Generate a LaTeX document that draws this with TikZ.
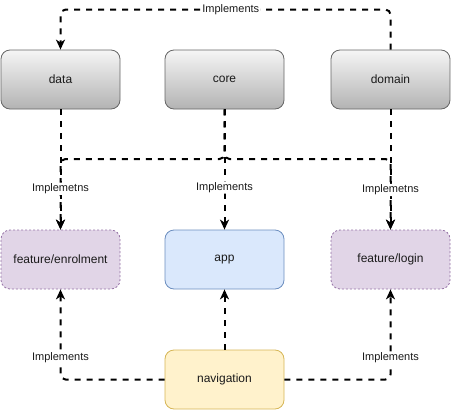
\documentclass[tikz,border=0pt]{standalone}
\usepackage{fontspec}
\setmainfont{Liberation Sans}
\usetikzlibrary{arrows.meta,shadings}
\definecolor{grayTop}{HTML}{F5F5F5}
\definecolor{grayBot}{HTML}{B3B3B3}
\definecolor{grayLine}{HTML}{666666}
\definecolor{purpFill}{HTML}{E1D5E7}
\definecolor{purpLine}{HTML}{9673A6}
\definecolor{blueFill}{HTML}{DAE8FC}
\definecolor{blueLine}{HTML}{6C8EBF}
\definecolor{yelFill}{HTML}{FFF2CC}
\definecolor{yelLine}{HTML}{D6B656}
\definecolor{txt}{HTML}{1A1A1A}
\begin{document}
\begin{tikzpicture}[x=1pt,y=-1pt,
  box/.style={rounded corners=9pt,minimum width=119pt,minimum height=59pt,inner sep=0pt,font=\fontsize{12}{14}\selectfont,text=txt,line width=0.8pt},
  graybox/.style={box,draw=grayLine,top color=grayTop,bottom color=grayBot},
  purpbox/.style={box,draw=purpLine,fill=purpFill,dash pattern=on 2pt off 2pt},
  bluebox/.style={box,draw=blueLine,fill=blueFill},
  yelbox/.style={box,draw=yelLine,fill=yelFill},
  conn/.style={line width=2pt,dash pattern=on 6pt off 6pt,rounded corners=5pt,-{Stealth[length=10pt,width=9pt,inset=3pt]}},
  lbl/.style={fill=white,inner sep=1pt,font=\fontsize{11}{13}\selectfont,text=txt}]
\useasboundingbox (0,0) rectangle (451,410);
\node[graybox] (data) at (60.5,79.5) {data};
\node[graybox] (core) at (224.5,79.5) {core};
\node[graybox] (domain) at (390.5,79.5) {domain};
\node[purpbox] (enrol) at (60.5,259.5) {feature/enrolment};
\node[bluebox] (app) at (224.5,259.5) {app};
\node[purpbox] (login) at (390.5,259.5) {feature/login};
\node[yelbox] (nav) at (224.5,379.5) {navigation};
% domain -> data
\draw[conn] (domain.north) -- ++(0,-40) -| (data.north) node[pos=0.242,lbl]{Implements};
% core connections
\draw[conn] (core.south) -- (core.south |- 0,159) -| (enrol.north);
\draw[conn] (core.south) -- (core.south |- 0,159) -| (login.north);
\draw[conn] (core.south) -- (app.north) node[pos=0.65,lbl]{Implements};
% data -> enrol, domain -> login
\draw[conn] (data.south) -- (enrol.north) node[pos=0.66,lbl]{Implemetns};
\draw[conn] (domain.south) -- (login.north) node[pos=0.67,lbl]{Implemetns};
% navigation
\draw[conn] (nav.west) -| (enrol.south) node[pos=0.62,lbl]{Implements};
\draw[conn] (nav.north) -- (app.south);
\draw[conn] (nav.east) -| (login.south) node[pos=0.62,lbl]{Implements};
\end{tikzpicture}
\end{document}
